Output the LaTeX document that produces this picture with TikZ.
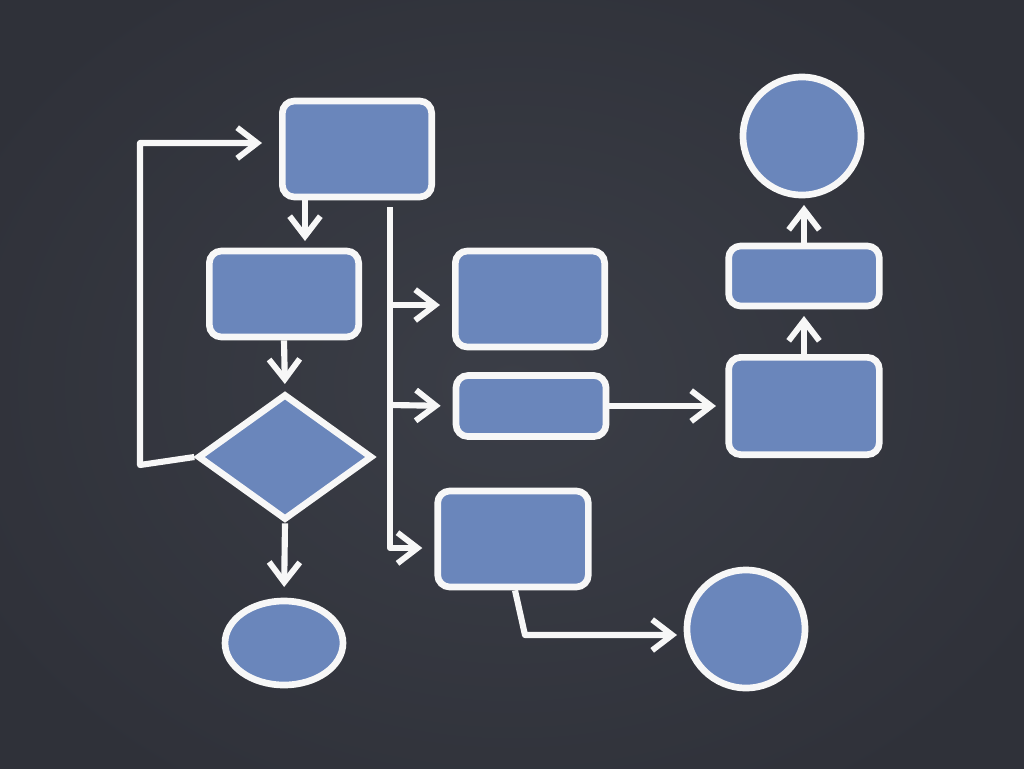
\documentclass[tikz,border=0pt]{standalone}
\usetikzlibrary{arrows.meta,shapes.geometric,calc}
\definecolor{board}{HTML}{3B3E47}
\definecolor{boardedge}{HTML}{2F3139}
\definecolor{chalkblue}{HTML}{6A86BB}
\tikzset{
  chalk/.style={draw=white!94!gray, line width=5pt, fill=chalkblue},
  box/.style={chalk, rectangle, rounded corners=9pt, inner sep=0pt},
  wire/.style={draw=white!94!gray, line width=4.6pt, line join=round},
  arrow/.style={wire, -{Straight Barb[length=15pt,width=23pt,line width=4.4pt]}, shorten >=5pt}
}
\begin{document}
\begin{tikzpicture}[x=0.75pt, y=-0.75pt]
% board
\useasboundingbox (0,0) rectangle (1024,768);
\shade[inner color=board, outer color=boardedge] (-100,-100) rectangle (1124,868);
% boxes
\node[box, minimum width=112pt, minimum height=72pt] (start) at (357,149) {};
\node[box, minimum width=112pt, minimum height=64.5pt] (step1) at (284,294) {};
\node[chalk, diamond, inner sep=0pt, minimum width=131pt, minimum height=94.5pt] (test) at (285,457) {};
\node[chalk, ellipse, inner sep=0pt, minimum width=88.5pt, minimum height=63pt] (stop) at (284,643) {};
\node[box, minimum width=112pt, minimum height=72pt] (optA) at (530,299) {};
\node[box, minimum width=112.5pt, minimum height=45.75pt] (optB) at (531,406) {};
\node[box, minimum width=113pt, minimum height=72pt] (optC) at (513,539) {};
\node[box, minimum width=113pt, minimum height=73pt] (merge) at (804,406) {};
\node[box, minimum width=113pt, minimum height=45pt] (final) at (804,276) {};
\node[chalk, circle, inner sep=0pt, minimum size=88.5pt] (done) at (802,136) {};
\node[chalk, circle, inner sep=0pt, minimum size=88.5pt] (exit) at (746,629) {};
% connectors
\coordinate (loopin) at (262,143);
\coordinate (fork) at (390,207);
\draw[arrow, shorten >=0pt] (test.west) -- (140,465) -- (140,143) -- (loopin);
\draw[arrow] (start.south -| 305,0) -- (step1.north -| 305,0);
\draw[arrow] (step1.south) -- (test.north);
\draw[arrow, shorten >=8pt] (test.south) -- (stop.north);
\draw[arrow, shorten >=9pt] (fork) -- (390,548) -- (optC.west |- 0,548);
\draw[arrow, shorten >=9pt] (390,305) -- (optA.west |- 0,305);
\draw[arrow, shorten >=9pt] (390,405) -- (optB.west);
\draw[arrow, shorten >=7pt] (optB.east) -- (merge.west);
\draw[arrow] (merge.north) -- (final.south);
\draw[arrow] (final.north) -- (final.north |- done.south);
\draw[arrow, shorten >=5pt] (optC.south -| 515,0) -- (525,635) -- (exit.west |- 0,635);
\end{tikzpicture}
\end{document}
